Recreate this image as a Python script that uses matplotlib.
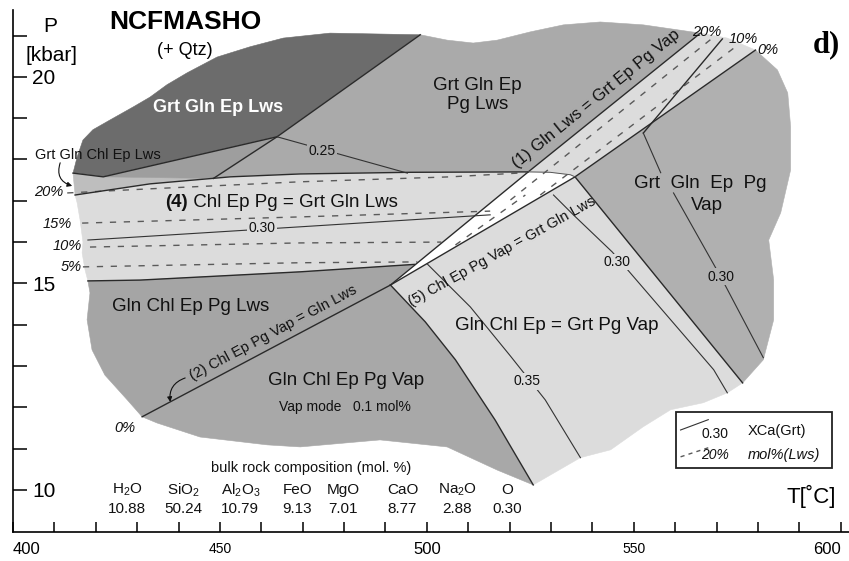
import numpy as np
import matplotlib.pyplot as plt
from matplotlib.patches import Polygon, Rectangle

plt.rcParams['font.family'] = ['Liberation Sans', 'DejaVu Sans']
plt.rcParams['mathtext.fontset'] = 'custom'
plt.rcParams['mathtext.rm'] = 'Liberation Sans'
plt.rcParams['mathtext.it'] = 'Liberation Sans:italic'

# ---- phase fields (T [C], P [kbar]) ----
grt_gln_ep_lws = [(414.5, 17.67), (415.5, 18.06), (416.9, 18.47), (419.3, 18.72), (423.5, 18.96),
                  (429.0, 19.27), (433.1, 19.51), (437.2, 19.81), (442.1, 20.10), (449.3, 20.48),
                  (457.3, 20.73), (465.3, 20.94), (476.6, 21.06), (498.4, 21.02), (463.8, 18.55),
                  (421.8, 17.58)]
grt_gln_chl_ep_lws = [(414.5, 17.67), (421.8, 17.58), (448.4, 17.54), (433.1, 17.41), (415.0, 17.14)]
small_tri = [(421.8, 17.58), (463.8, 18.55), (448.4, 17.54)]
grt_gln_ep_pg_lws = [(498.4, 21.02), (504.9, 20.89), (511.2, 20.82), (517.0, 20.89), (525.0, 21.09),
                     (533.0, 21.26), (541.9, 21.33), (552.3, 21.26), (566.1, 21.06), (524.5, 17.70),
                     (496.0, 17.69), (469.4, 17.65), (452.5, 17.58), (448.4, 17.54), (463.8, 18.55)]
band4 = [(415.0, 17.14), (433.1, 17.41), (452.5, 17.58), (469.4, 17.65), (496.0, 17.69), (524.5, 17.70),
         (497.0, 15.46), (469.4, 15.28), (430.7, 15.08), (418.1, 15.06), (417.4, 15.33), (416.7, 15.74),
         (416.9, 16.00), (416.2, 16.54), (415.5, 16.95)]
gln_chl_ep_pg_lws = [(418.1, 15.06), (430.7, 15.08), (469.4, 15.28), (497.0, 15.46), (491.2, 14.96),
                     (431.2, 11.77), (427.6, 12.18), (422.2, 12.78), (419.1, 13.39), (417.9, 14.12),
                     (418.6, 14.77)]
gln_chl_ep_pg_vap = [(491.2, 14.96), (431.2, 11.77), (434.8, 11.62), (445.2, 11.28), (461.4, 11.09),
                     (469.4, 11.04), (488.7, 11.21), (504.9, 11.04), (517.0, 10.48), (525.7, 10.12),
                     (516.5, 11.69), (506.9, 13.15), (499.6, 14.07)]
gln_chl_ep_grt_pg_vap = [(491.2, 14.96), (535.8, 17.58), (576.3, 12.59), (572.6, 12.35), (566.8, 12.11),
                         (558.9, 11.94), (552.3, 11.53), (544.4, 10.97), (537.1, 10.78), (525.7, 10.12),
                         (516.5, 11.69), (506.9, 13.15), (499.6, 14.07)]
grt_gln_ep_pg_vap = [(535.8, 17.58), (579.4, 20.65), (584.7, 20.17), (587.2, 19.61), (587.9, 18.79),
                     (587.9, 17.75), (585.5, 16.71), (582.6, 16.05), (583.8, 15.08), (583.8, 14.12),
                     (581.3, 13.15), (576.3, 12.59)]
wedge = [(491.2, 14.96), (524.5, 17.70), (529.8, 17.69), (534.7, 17.63), (535.8, 17.58)]
lws_band = [(524.5, 17.70), (566.1, 21.06), (572.6, 20.94), (579.4, 20.65), (535.8, 17.58),
            (534.7, 17.63), (529.8, 17.69)]

# ---- reaction lines ----
reaction_lines = [
    [(491.2, 14.96), (524.5, 17.70), (566.1, 21.06)],                       # (1)
    [(431.2, 11.77), (491.2, 14.96)],                                       # (2)
    [(491.2, 14.96), (535.8, 17.58)],                                       # (5)
    [(415.0, 17.14), (433.1, 17.41), (452.5, 17.58), (469.4, 17.65), (496.0, 17.69), (524.5, 17.70)],
    [(418.1, 15.06), (430.7, 15.08), (469.4, 15.28), (497.0, 15.46)],
    [(535.8, 17.58), (576.3, 12.59)],
    [(491.2, 14.96), (499.6, 14.07), (506.9, 13.15), (516.5, 11.69), (525.7, 10.12)],
    [(535.8, 17.58), (579.4, 20.65)],
    [(571.4, 20.92), (552.3, 18.64)],
    [(414.5, 17.67), (421.8, 17.58), (463.8, 18.55), (498.4, 21.02)],
    [(448.4, 17.54), (463.8, 18.55)],
]
wedge_top = [(524.5, 17.70), (529.8, 17.69), (534.7, 17.63), (535.8, 17.58)]

# ---- XCa(Grt) isopleths ----
xca_lines = [
    [(463.8, 18.55), (495.3, 17.67)],
    [(418.1, 16.05), (469.4, 16.37), (515.3, 16.66)],
    [(552.3, 18.64), (556.5, 17.68)],
    [(559.6, 17.19), (571.0, 15.16), (581.3, 13.20)],
    [(530.6, 17.14), (535.4, 16.66), (544.8, 15.76), (569.3, 12.91), (572.6, 12.35)],
    [(500.1, 15.47), (510.5, 14.43), (520.2, 13.24), (528.6, 12.18), (537.1, 10.78)],
]
xca_labels = [(474.7, 18.20, '0.25', '#aaaaaa'), (460.2, 16.34, '0.30', '#dcdcdc'),
              (546.0, 15.52, '0.30', '#dcdcdc'), (571.0, 15.16, '0.30', '#b0b0b0'),
              (524.3, 12.63, '0.35', '#dcdcdc')]

# ---- Lws mode isopleths (mol%) ----
lws_lines = [
    [(413.1, 17.19), (433.1, 17.29), (469.4, 17.46), (505.7, 17.58), (523.8, 17.68)],
    [(416.7, 16.46), (469.4, 16.61), (515.3, 16.75)],
    [(418.6, 15.88), (469.4, 15.98), (503.5, 16.00)],
    [(416.9, 15.40), (469.4, 15.50), (497.7, 15.52)],
    [(520.2, 17.02), (568.5, 20.90)],
    [(527.4, 17.14), (574.6, 20.73)],
    [(506.9, 15.93), (523.8, 17.14)],
]
lws_left_labels = ['20%', '15%', '10%', '5%']
lws_left_pos = [(412.1, 17.21), (414.3, 16.44), (416.7, 15.90), (416.7, 15.40)]

# ---- bulk composition ----
oxides = ['H$_2$O', 'SiO$_2$', 'Al$_2$O$_3$', 'FeO', 'MgO', 'CaO', 'Na$_2$O', 'O']
oxide_mol = ['10.88', '50.24', '10.79', '9.13', '7.01', '8.77', '2.88', '0.30']
oxide_T = [427.6, 441.1, 454.9, 468.7, 479.8, 494.1, 507.4, 519.4]

fig = plt.figure(figsize=(8.49, 5.61), dpi=100)
ax = fig.add_axes([13 / 849, 29 / 561, 836 / 849, 522 / 561])
ax.set_xlim(400, 602)
ax.set_ylim(8.98, 21.62)

fields = [(grt_gln_ep_lws, '#6c6c6c'), (grt_gln_chl_ep_lws, '#bebebe'), (small_tri, '#9e9e9e'),
          (grt_gln_ep_pg_lws, '#aaaaaa'), (band4, '#dcdcdc'), (gln_chl_ep_pg_lws, '#a5a5a5'),
          (gln_chl_ep_pg_vap, '#a8a8a8'), (gln_chl_ep_grt_pg_vap, '#dcdcdc'),
          (grt_gln_ep_pg_vap, '#b0b0b0'), (wedge, '#ffffff'), (lws_band, '#dcdcdc')]
for pts, col in fields:
    ax.add_patch(Polygon(pts, closed=True, facecolor=col, edgecolor=col, lw=0.4, zorder=1))

for ln in reaction_lines:
    a = np.array(ln)
    ax.plot(a[:, 0], a[:, 1], color='#2a2a2a', lw=1.0, zorder=3)
a = np.array(wedge_top)
ax.plot(a[:, 0], a[:, 1], color='#555555', lw=0.7, zorder=3)

for ln in xca_lines:
    a = np.array(ln)
    ax.plot(a[:, 0], a[:, 1], color='#333333', lw=0.8, zorder=3)
for x, y, s, bg in xca_labels:
    ax.text(x, y, s, fontsize=10, ha='center', va='center', color='#111111', zorder=4,
            bbox=dict(boxstyle='square,pad=0.1', fc=bg, ec='none'))

for ln in lws_lines:
    a = np.array(ln)
    ax.plot(a[:, 0], a[:, 1], color='#5a5a5a', lw=1.0, ls=(0, (4.5, 5.5)), zorder=2)
for s, (x, y) in zip(lws_left_labels, lws_left_pos):
    ax.text(x, y, s, fontsize=10.5, style='italic', ha='right', va='center', color='#111111')

# ---- field names ----
TXT = '#111111'
ax.text(449.6, 19.25, 'Grt Gln Ep Lws', fontsize=13, fontweight='bold', color='white', ha='center', va='center')
ax.text(512.2, 19.56, 'Grt Gln Ep\nPg Lws', fontsize=13.5, color=TXT, ha='center', va='center', linespacing=1.2)
ax.text(420.6, 18.11, 'Grt Gln Chl Ep Lws', fontsize=10.5, color=TXT, ha='center', va='center')
ax.annotate('', xy=(414.3, 17.36), xytext=(411.4, 17.92),
            arrowprops=dict(arrowstyle='-|>', connectionstyle='arc3,rad=0.5', color=TXT, lw=0.8,
                            mutation_scale=7, shrinkA=0, shrinkB=0))
t4 = ax.text(436.8, 16.97, '(4)', fontsize=13.5, fontweight='bold', color=TXT, ha='left', va='center')
ax.annotate(' Chl Ep Pg = Grt Gln Lws', xy=(1, 0.5), xycoords=t4, fontsize=13.5, color=TXT,
            ha='left', va='center')
ax.text(540.9, 19.46, '(1) Gln Lws = Grt Ep Pg Vap', fontsize=12, color=TXT, ha='center', va='center',
        rotation=39, rotation_mode='anchor')
ax.text(566.1, 17.43, 'Grt  Gln  Ep  Pg', fontsize=13.5, color=TXT, ha='center', va='center')
ax.text(567.6, 16.88, 'Vap', fontsize=13.5, color=TXT, ha='center', va='center')
ax.text(443.0, 14.45, 'Gln Chl Ep Pg Lws', fontsize=13.5, color=TXT, ha='center', va='center')
ax.text(518.3, 15.78, '(5) Chl Ep Pg Vap = Grt Gln Lws', fontsize=10.5, color=TXT, ha='center', va='center',
        rotation=29, rotation_mode='anchor')
ax.text(531.5, 13.97, 'Gln Chl Ep = Grt Pg Vap', fontsize=13.5, color=TXT, ha='center', va='center')
ax.text(480.5, 12.64, 'Gln Chl Ep Pg Vap', fontsize=13.5, color=TXT, ha='center', va='center')
ax.text(480.3, 12.01, 'Vap mode   0.1 mol%', fontsize=10, color=TXT, ha='center', va='center')
ax.text(462.9, 13.80, '(2) Chl Ep Pg Vap = Gln Lws', fontsize=10.5, color=TXT, ha='center', va='center',
        rotation=28, rotation_mode='anchor')
ax.annotate('', xy=(438.0, 12.13), xytext=(441.6, 12.71),
            arrowprops=dict(arrowstyle='-|>', connectionstyle='arc3,rad=0.4', color=TXT, lw=0.8,
                            mutation_scale=7, shrinkA=0, shrinkB=0))
ax.text(427.1, 11.50, '0%', fontsize=10.5, style='italic', color=TXT, ha='center', va='center')
ax.text(567.6, 21.08, '20%', fontsize=10.5, style='italic', color=TXT, ha='center', va='center')
ax.text(576.5, 20.91, '10%', fontsize=10.5, style='italic', color=TXT, ha='center', va='center')
ax.text(582.3, 20.65, '0%', fontsize=10.5, style='italic', color=TXT, ha='center', va='center')

# ---- headings ----
ax.text(441.6, 21.33, 'NCFMASHO', fontsize=19, fontweight='bold', color='black', ha='center', va='center')
ax.text(441.6, 20.63, '(+ Qtz)', fontsize=13, color='black', ha='center', va='center')
ax.text(408.9, 21.23, 'P', fontsize=15, color='black', ha='center', va='center')
ax.text(409.4, 20.51, '[kbar]', fontsize=15, color='black', ha='center', va='center')
ax.text(596.6, 20.77, 'd)', fontsize=22, fontweight='bold', family='Liberation Serif', ha='center', va='center')
ax.text(592.9, 9.83, 'T[˚C]', fontsize=16, color='black', ha='center', va='center')

# ---- bulk rock composition ----
ax.text(472.1, 10.53, 'bulk rock composition (mol. %)', fontsize=10.5, color=TXT, ha='center', va='center')
for s, v, x in zip(oxides, oxide_mol, oxide_T):
    ax.text(x, 10.0, s, fontsize=11, color=TXT, ha='center', va='center')
    ax.text(x, 9.54, v, fontsize=11, color=TXT, ha='center', va='center')

# ---- legend box ----
ax.add_patch(Rectangle((560.1, 10.53), 37.9, 1.36, fc='white', ec='#222222', lw=1.3, zorder=5))
ax.plot([561.3, 568.0], [11.45, 11.70], color='#333333', lw=0.8, zorder=6)
ax.plot([561.3, 568.0], [10.80, 11.02], color='#5a5a5a', lw=1.0, ls=(0, (3, 3)), zorder=6)
ax.text(569.6, 11.36, '0.30', fontsize=10, color=TXT, ha='center', va='center', zorder=6)
ax.text(577.5, 11.43, 'XCa(Grt)', fontsize=10.5, color=TXT, ha='left', va='center', zorder=6)
ax.text(569.6, 10.85, '20%', fontsize=10, style='italic', color=TXT, ha='center', va='center', zorder=6)
ax.text(577.5, 10.85, 'mol%(Lws)', fontsize=10.5, style='italic', color=TXT, ha='left', va='center', zorder=6)

# ---- axes ----
for side in ['top', 'right']:
    ax.spines[side].set_visible(False)
for side in ['left', 'bottom']:
    ax.spines[side].set_linewidth(1.2)
ax.set_xticks([400, 450, 500, 550, 600])
ax.set_xticks(np.arange(410, 600, 10), minor=True)
ax.set_yticks([10, 15, 20])
ax.set_yticks(np.arange(11, 22, 1), minor=True)
ax.tick_params(axis='x', which='both', direction='in', length=7, width=1.1, pad=7, labelsize=12)
ax.tick_params(axis='y', which='both', direction='in', length=10, width=1.1, pad=-14, labelsize=15)
for lab in ax.get_yticklabels():
    lab.set_horizontalalignment('left')
for lab in ax.get_xticklabels():
    txt = lab.get_text()
    if txt in ('450', '550'):
        lab.set_fontsize(10)
    elif txt == '400':
        lab.set_horizontalalignment('left')
    elif txt == '600':
        lab.set_horizontalalignment('right')

fig.savefig('out.png', dpi=100)
